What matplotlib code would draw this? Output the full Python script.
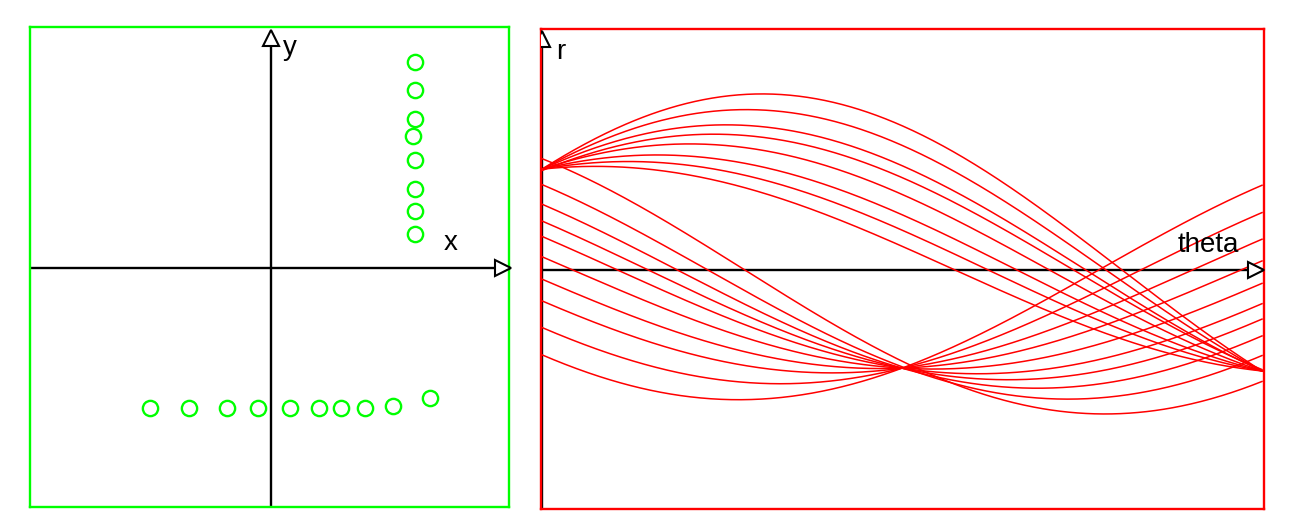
import numpy as np
import matplotlib
matplotlib.use('Agg')
from matplotlib import pyplot as plt

plt.rcParams['font.family'] = ['Liberation Sans', 'DejaVu Sans']

# points in image space (pixel offsets from the origin)
pts_x = [144, 144, 144, 142, 144, 144, 144, 144,
         -121, -82, -44, -13, 19, 48, 70, 94, 122, 159]
pts_y = [206, 178, 149, 132, 108, 79, 57, 34,
         -140, -140, -140, -140, -140, -140, -140, -140, -138, -130]

GREEN = '#00ff00'
RED = '#ff0000'

fig = plt.figure(figsize=(13, 5.3), dpi=100)

# ---- left: image space ----
ax1 = fig.add_axes([30 / 1300, 23 / 530, 479 / 1300, 480 / 530])
ax1.set_xlim(-241, 238)
ax1.set_ylim(-239, 241)
ax1.plot([-241, 226], [0, 0], color='black', lw=1.7, zorder=2)
ax1.plot([0, 0], [-239, 224], color='black', lw=1.7, zorder=2)
ax1.plot([232], [0], marker='>', ms=12, mfc='white', mec='black', mew=1.5, zorder=3, clip_on=False)
ax1.plot([0], [230], marker='^', ms=12, mfc='white', mec='black', mew=1.5, zorder=3, clip_on=False)
ax1.text(19, 220, 'y', fontsize=20, ha='center', va='center')
ax1.text(180, 25, 'x', fontsize=20, ha='center', va='center')
ax1.plot(pts_x, pts_y, linestyle='none', marker='o', ms=11, mfc='none',
         mec=GREEN, mew=1.7, zorder=4)
ax1.set_xticks([])
ax1.set_yticks([])
for s in ax1.spines.values():
    s.set_color(GREEN)
    s.set_linewidth(1.7)

# ---- right: hough space r = x cos(theta) + y sin(theta) ----
ax2 = fig.add_axes([541 / 1300, 21 / 530, 723 / 1300, 480 / 530])
ax2.set_xlim(-np.pi / 720, 722 * np.pi / 720)
ax2.set_ylim(-341, 344)
theta = np.linspace(0, np.pi, 500)
for x, y in zip(pts_x, pts_y):
    r = x * np.cos(theta) + y * np.sin(theta)
    ax2.plot(theta, r, color=RED, lw=1.1, zorder=3)
ax2.plot([0, 3.09], [0, 0], color='black', lw=1.7, zorder=2)
ax2.plot([0, 0], [-341, 322], color='black', lw=1.7, zorder=2)
ax2.plot([3.115], [0], marker='>', ms=12, mfc='white', mec='black', mew=1.5, zorder=4)
ax2.plot([0], [330], marker='^', ms=12, mfc='white', mec='black', mew=1.5, zorder=4)
ax2.text(0.083, 311, 'r', fontsize=20, ha='center', va='center')
ax2.text(2.906, 36, 'theta', fontsize=20, ha='center', va='center')
ax2.set_xticks([])
ax2.set_yticks([])
for s in ax2.spines.values():
    s.set_color(RED)
    s.set_linewidth(1.7)

fig.savefig('out.png', dpi=100)
